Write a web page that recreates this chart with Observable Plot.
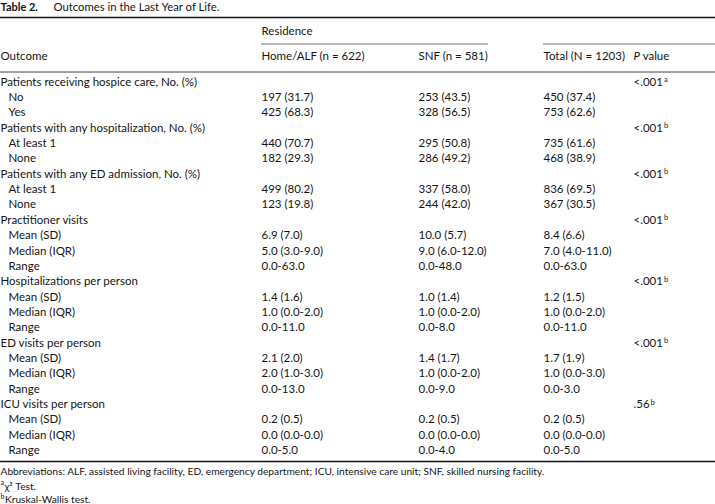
<!DOCTYPE html>
<html><head><meta charset="utf-8">
<script src="https://cdn.jsdelivr.net/npm/d3@7"></script>
<script src="https://cdn.jsdelivr.net/npm/@observablehq/plot@0.6"></script>
<style>body{margin:0;background:#fff} svg{display:block}</style>
</head><body><div id="chart"></div>
<script>
// ---- table content ----
const tableLabel = "Table 2.";
const tableTitle = "Outcomes in the Last Year of Life.";
const groupHeader = "Residence";
const columnHeaders = ["Outcome", "Home/ALF (n = 622)", "SNF (n = 581)", "Total (N = 1203)", "P value"];

const outcomes = [
  "Patients receiving hospice care, No. (%)", "No", "Yes",
  "Patients with any hospitalization, No. (%)", "At least 1", "None",
  "Patients with any ED admission, No. (%)", "At least 1", "None",
  "Practitioner visits", "Mean (SD)", "Median (IQR)", "Range",
  "Hospitalizations per person", "Mean (SD)", "Median (IQR)", "Range",
  "ED visits per person", "Mean (SD)", "Median (IQR)", "Range",
  "ICU visits per person", "Mean (SD)", "Median (IQR)", "Range"
];
const isSubRow = [0,1,1, 0,1,1, 0,1,1, 0,1,1,1, 0,1,1,1, 0,1,1,1, 0,1,1,1];
const homeALF = ["", "197 (31.7)", "425 (68.3)", "", "440 (70.7)", "182 (29.3)", "", "499 (80.2)", "123 (19.8)",
  "", "6.9 (7.0)", "5.0 (3.0-9.0)", "0.0-63.0", "", "1.4 (1.6)", "1.0 (0.0-2.0)", "0.0-11.0",
  "", "2.1 (2.0)", "2.0 (1.0-3.0)", "0.0-13.0", "", "0.2 (0.5)", "0.0 (0.0-0.0)", "0.0-5.0"];
const snf = ["", "253 (43.5)", "328 (56.5)", "", "295 (50.8)", "286 (49.2)", "", "337 (58.0)", "244 (42.0)",
  "", "10.0 (5.7)", "9.0 (6.0-12.0)", "0.0-48.0", "", "1.0 (1.4)", "1.0 (0.0-2.0)", "0.0-8.0",
  "", "1.4 (1.7)", "1.0 (0.0-2.0)", "0.0-9.0", "", "0.2 (0.5)", "0.0 (0.0-0.0)", "0.0-4.0"];
const total = ["", "450 (37.4)", "753 (62.6)", "", "735 (61.6)", "468 (38.9)", "", "836 (69.5)", "367 (30.5)",
  "", "8.4 (6.6)", "7.0 (4.0-11.0)", "0.0-63.0", "", "1.2 (1.5)", "1.0 (0.0-2.0)", "0.0-11.0",
  "", "1.7 (1.9)", "1.0 (0.0-3.0)", "0.0-3.0", "", "0.2 (0.5)", "0.0 (0.0-0.0)", "0.0-5.0"];
const pValue = ["<.001", "", "", "<.001", "", "", "<.001", "", "", "<.001", "", "", "",
  "<.001", "", "", "", "<.001", "", "", "", ".56", "", "", ""];
const pNote = ["a", "", "", "b", "", "", "b", "", "", "b", "", "", "",
  "b", "", "", "", "b", "", "", "", "b", "", "", ""];

const footnotes = [
  "Abbreviations: ALF, assisted living facility, ED, emergency department; ICU, intensive care unit; SNF, skilled nursing facility.",
  "\u03C7\u00B2 Test.",
  "Kruskal-Wallis test."
];
const footnoteMarks = ["", "a", "b"];

// ---- layout ----
const W = 715, H = 504;
const FONT = "Lato, 'Open Sans', sans-serif";
const colX = [0, 261, 418, 543, 633];
const indent = 8;
const rowY0 = 81.5, rowStep = 15.35;
const rowY = i => rowY0 + i * rowStep;

const rows = outcomes.map((o, i) => ({
  i, outcome: o, sub: isSubRow[i], home: homeALF[i], snf: snf[i], total: total[i], p: pValue[i], note: pNote[i]
}));
const headers = columnHeaders.map((h, k) => ({h, k}));
const fn = footnotes.map((t, k) => ({t, k, mark: footnoteMarks[k]}));

const txt = {fontFamily: FONT, fontSize: 11.5, fill: "#151515", textAnchor: "start"};

const marks = [
  // title
  Plot.text([tableLabel], {...txt, x: () => 0, y: () => 7, text: d => d, fontWeight: "bold", fontSize: 11}),
  Plot.text([tableTitle], {...txt, x: () => 53, y: () => 7, text: d => d, fontSize: 11.3}),
  // rules
  Plot.ruleY([{y: 17, x1: 0, x2: W}], {y: "y", x1: "x1", x2: "x2", stroke: "#111", strokeWidth: 1.6}),
  Plot.ruleY([{y: 43.5, x1: colX[1], x2: 488}, {y: 43.5, x1: colX[3], x2: W}], {y: "y", x1: "x1", x2: "x2", stroke: "#777", strokeWidth: 1.2}),
  Plot.ruleY([{y: 71.5, x1: 0, x2: W}], {y: "y", x1: "x1", x2: "x2", stroke: "#444", strokeWidth: 1}),
  Plot.ruleY([{y: 461, x1: 0, x2: W}], {y: "y", x1: "x1", x2: "x2", stroke: "#111", strokeWidth: 1.6}),
  // headers
  Plot.text([groupHeader], {...txt, x: () => colX[1], y: () => 30.5, text: d => d}),
  Plot.text(headers, {...txt, x: d => colX[d.k], y: () => 56, text: "h"}),
  // body
  Plot.text(rows, {...txt, x: d => d.sub ? indent : 0, y: d => rowY(d.i), text: "outcome"}),
  Plot.text(rows.filter(d => d.home), {...txt, x: () => colX[1], y: d => rowY(d.i), text: "home"}),
  Plot.text(rows.filter(d => d.snf), {...txt, x: () => colX[2], y: d => rowY(d.i), text: "snf"}),
  Plot.text(rows.filter(d => d.total), {...txt, x: () => colX[3], y: d => rowY(d.i), text: "total"}),
  Plot.text(rows.filter(d => d.p), {...txt, x: () => colX[4], y: d => rowY(d.i), text: "p"}),
  // footnotes
  Plot.text(fn, {...txt, fontSize: 10.2, x: () => 0, y: d => 471.5 + d.k * 13.3, text: "t"})
];

const svg = Plot.plot({
  width: W, height: H,
  marginTop: 0, marginRight: 0, marginBottom: 0, marginLeft: 0,
  x: {type: "identity", axis: null},
  y: {type: "identity", axis: null},
  style: {background: "#fff", fontFamily: FONT},
  marks
});

// superscripts / italics (matched by text content)
const allText = Array.from(svg.querySelectorAll("text"));
const pRows = rows.filter(d => d.p);
const pTexts = allText.filter(t => pRows.some(d => d.p === t.textContent));
pTexts.forEach((t, j) => {
  d3.select(t).append("tspan").attr("dy", "-0.45em").attr("dx", "1").attr("font-size", "7.5").text(pRows[j].note);
});
allText.filter(t => t.textContent === "P value").forEach(t => {
  const el = d3.select(t);
  el.text("");
  el.append("tspan").attr("font-style", "italic").text("P");
  el.append("tspan").text(" value");
});
footnotes.forEach((f, k) => {
  const m = footnoteMarks[k];
  if (!m) return;
  allText.filter(t => t.textContent === f).forEach(t => {
    const el = d3.select(t);
    el.text("");
    el.append("tspan").attr("dy", "-0.45em").attr("font-size", "7").text(m);
    el.append("tspan").attr("dy", "0.45em").attr("dx", "0.5").text(f);
  });
});

document.getElementById("chart").appendChild(svg);
</script>
</body></html>
